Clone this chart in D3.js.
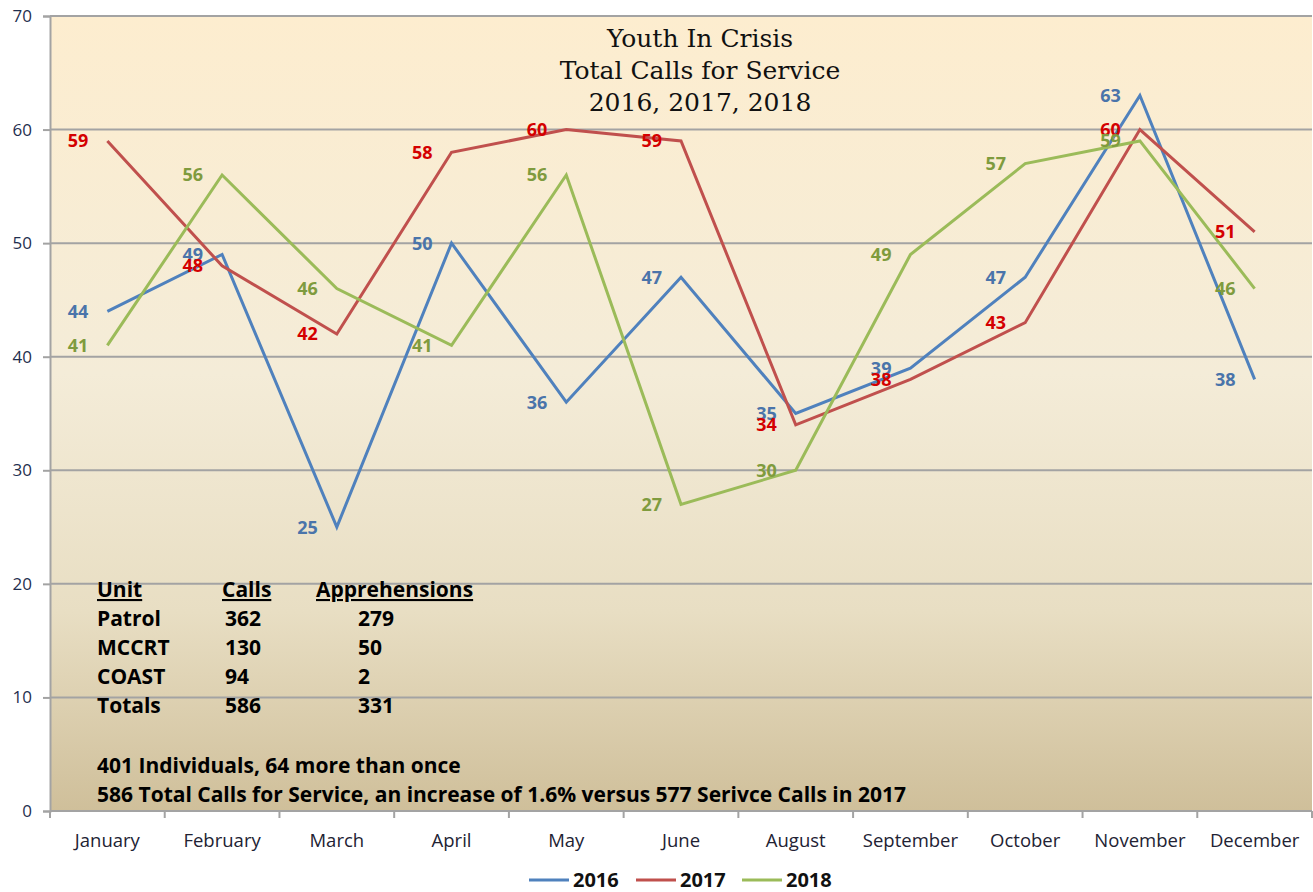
<!DOCTYPE html>
<html>
<head>
<meta charset="utf-8">
<script src="https://cdn.jsdelivr.net/npm/d3@7"></script>
<style>
  body { margin: 0; background: #fff; }
  svg text { font-family: "Open Sans", "Liberation Sans", sans-serif; }
</style>
</head>
<body>
<div id="chart"></div>
<script>
// chart data
var months = ["January", "February", "March", "April", "May", "June", "August", "September", "October", "November", "December"];
var years = ["2016", "2017", "2018"];
var calls2016 = [44, 49, 25, 50, 36, 47, 35, 39, 47, 63, 38];
var calls2017 = [59, 48, 42, 58, 60, 59, 34, 38, 43, 60, 51];
var calls2018 = [41, 56, 46, 41, 56, 27, 30, 49, 57, 59, 46];
var yTicks = [0, 10, 20, 30, 40, 50, 60, 70];
var titleLines = ["Youth In Crisis", "Total Calls for Service", "2016, 2017, 2018"];

// unit table
var tableHead = ["Unit", "Calls", "Apprehensions"];
var units = ["Patrol", "MCCRT", "COAST", "Totals"];
var unitCalls = [362, 130, 94, 586];
var unitApprehensions = [279, 50, 2, 331];
var notes = ["401 Individuals, 64 more than once",
  "586 Total Calls for Service, an increase of 1.6% versus 577 Serivce Calls in 2017"];

var lineColors = ["#4F81BD", "#C0504D", "#9BBB59"];
var labelColors = ["#4A74AA", "#D40000", "#7F9B3E"];

var W = 1313, H = 892;
var margin = { top: 16, right: 1, bottom: 81, left: 50 },
  width = W - margin.left - margin.right,
  height = H - margin.top - margin.bottom;

var svgRoot = d3.select("#chart")
  .append("svg")
  .attr("width", W)
  .attr("height", H);

// background gradient of plot area
var grad = svgRoot.append("defs").append("linearGradient")
  .attr("id", "bg")
  .attr("x1", 0).attr("y1", 0).attr("x2", 0).attr("y2", 1);
grad.append("stop").attr("offset", "0%").attr("stop-color", "#FDEDCF");
grad.append("stop").attr("offset", "45%").attr("stop-color", "#F4ECD8");
grad.append("stop").attr("offset", "75%").attr("stop-color", "#E8DEC3");
grad.append("stop").attr("offset", "100%").attr("stop-color", "#CFBF9A");

var svg = svgRoot.append("g")
  .attr("transform", "translate(" + margin.left + "," + margin.top + ")");

svg.append("rect")
  .attr("width", width)
  .attr("height", height)
  .attr("fill", "url(#bg)");

var x = d3.scaleBand().domain(months).range([0, width]).padding(0);
var y = d3.scaleLinear().domain([0, 70]).range([height, 0]);

// gridlines
svg.append("g")
  .selectAll("line")
  .data(yTicks.filter(function (d) { return d > 0; }))
  .enter().append("line")
  .attr("x1", 0).attr("x2", width)
  .attr("y1", function (d) { return y(d); })
  .attr("y2", function (d) { return y(d); })
  .attr("stroke", "#A3A3A3")
  .attr("stroke-width", 2);

// y axis
var yAxis = svg.append("g")
  .call(d3.axisLeft(y).tickValues(yTicks).tickSize(7).tickPadding(11));
yAxis.select(".domain").attr("stroke", "#A3A3A3").attr("stroke-width", 2);
yAxis.selectAll(".tick line").attr("stroke", "#A3A3A3").attr("stroke-width", 2);
yAxis.selectAll("text")
  .style("font-size", "17px")
  .style("font-family", "'Open Sans', sans-serif")
  .attr("fill", "#1F2F4F");

// x axis with ticks at band edges
var xAxis = svg.append("g")
  .attr("transform", "translate(0," + height + ")");
xAxis.append("line")
  .attr("x1", 0).attr("x2", width)
  .attr("stroke", "#A3A3A3").attr("stroke-width", 2);
xAxis.selectAll(".edge")
  .data(months.concat(["end"]))
  .enter().append("line")
  .attr("class", "edge")
  .attr("x1", function (d, i) { return i < months.length ? x(d) : width; })
  .attr("x2", function (d, i) { return i < months.length ? x(d) : width; })
  .attr("y1", 0).attr("y2", 7)
  .attr("stroke", "#A3A3A3").attr("stroke-width", 2);
xAxis.selectAll(".mlabel")
  .data(months)
  .enter().append("text")
  .attr("class", "mlabel")
  .attr("x", function (d) { return x(d) + x.bandwidth() / 2; })
  .attr("y", 36)
  .attr("text-anchor", "middle")
  .style("font-size", "18.5px")
  .attr("fill", "#222233")
  .text(function (d) { return d; });

// title
svg.append("g")
  .selectAll("text")
  .data(titleLines)
  .enter().append("text")
  .attr("x", 700 - margin.left)
  .attr("y", function (d, i) { return 31 + i * 32; })
  .attr("text-anchor", "middle")
  .style("font-family", "'DejaVu Serif', serif")
  .style("font-size", "25px")
  .attr("fill", "#111")
  .text(function (d) { return d; });

// series
var series = [calls2016, calls2017, calls2018];
var line = d3.line()
  .x(function (d, i) { return x(months[i]) + x.bandwidth() / 2; })
  .y(function (d) { return y(d); });

series.forEach(function (vals, s) {
  svg.append("path")
    .datum(vals)
    .attr("fill", "none")
    .attr("stroke", lineColors[s])
    .attr("stroke-width", 3)
    .attr("stroke-linejoin", "miter")
    .attr("d", line);
});

// data labels, placed left of each point
series.forEach(function (vals, s) {
  svg.append("g")
    .selectAll("text")
    .data(vals)
    .enter().append("text")
    .attr("x", function (d, i) { return x(months[i]) + x.bandwidth() / 2 - 19; })
    .attr("y", function (d) { return y(d); })
    .attr("dy", "0.36em")
    .attr("text-anchor", "end")
    .style("font-size", "18px")
    .style("font-weight", "bold")
    .attr("fill", labelColors[s])
    .text(function (d) { return d; });
});

// summary table
var tbl = svg.append("g").attr("transform", "translate(" + (97 - margin.left) + "," + (597 - margin.top) + ")");
var colX = [0, 125, 219];
var valX = [0, 128, 261];
tbl.selectAll(".head")
  .data(tableHead)
  .enter().append("text")
  .attr("x", function (d, i) { return colX[i]; })
  .attr("y", 0)
  .style("font-size", "21px")
  .style("font-weight", "bold")
  .style("text-decoration", "underline")
  .attr("fill", "#000")
  .text(function (d) { return d; });

units.forEach(function (u, r) {
  var row = [u, unitCalls[r], unitApprehensions[r]];
  tbl.selectAll(".r" + r)
    .data(row)
    .enter().append("text")
    .attr("x", function (d, i) { return valX[i]; })
    .attr("y", (r + 1) * 29)
    .style("font-size", "21px")
    .style("font-weight", "bold")
    .attr("fill", "#000")
    .text(function (d) { return d; });
});

tbl.selectAll(".note")
  .data(notes)
  .enter().append("text")
  .attr("x", 0)
  .attr("y", function (d, i) { return 176 + i * 29; })
  .style("font-size", "21px")
  .style("font-weight", "bold")
  .attr("fill", "#000")
  .text(function (d) { return d; });

// legend
var legend = svgRoot.append("g").attr("transform", "translate(529,880)");
var legX = [0, 107, 213];
years.forEach(function (yr, i) {
  legend.append("line")
    .attr("x1", legX[i]).attr("x2", legX[i] + 40)
    .attr("y1", 0).attr("y2", 0)
    .attr("stroke", lineColors[i])
    .attr("stroke-width", 3);
  legend.append("text")
    .attr("x", legX[i] + 44)
    .attr("y", 0)
    .attr("dy", "0.36em")
    .style("font-size", "20px")
    .style("font-weight", "bold")
    .attr("fill", "#111")
    .text(yr);
});
</script>
</body>
</html>
